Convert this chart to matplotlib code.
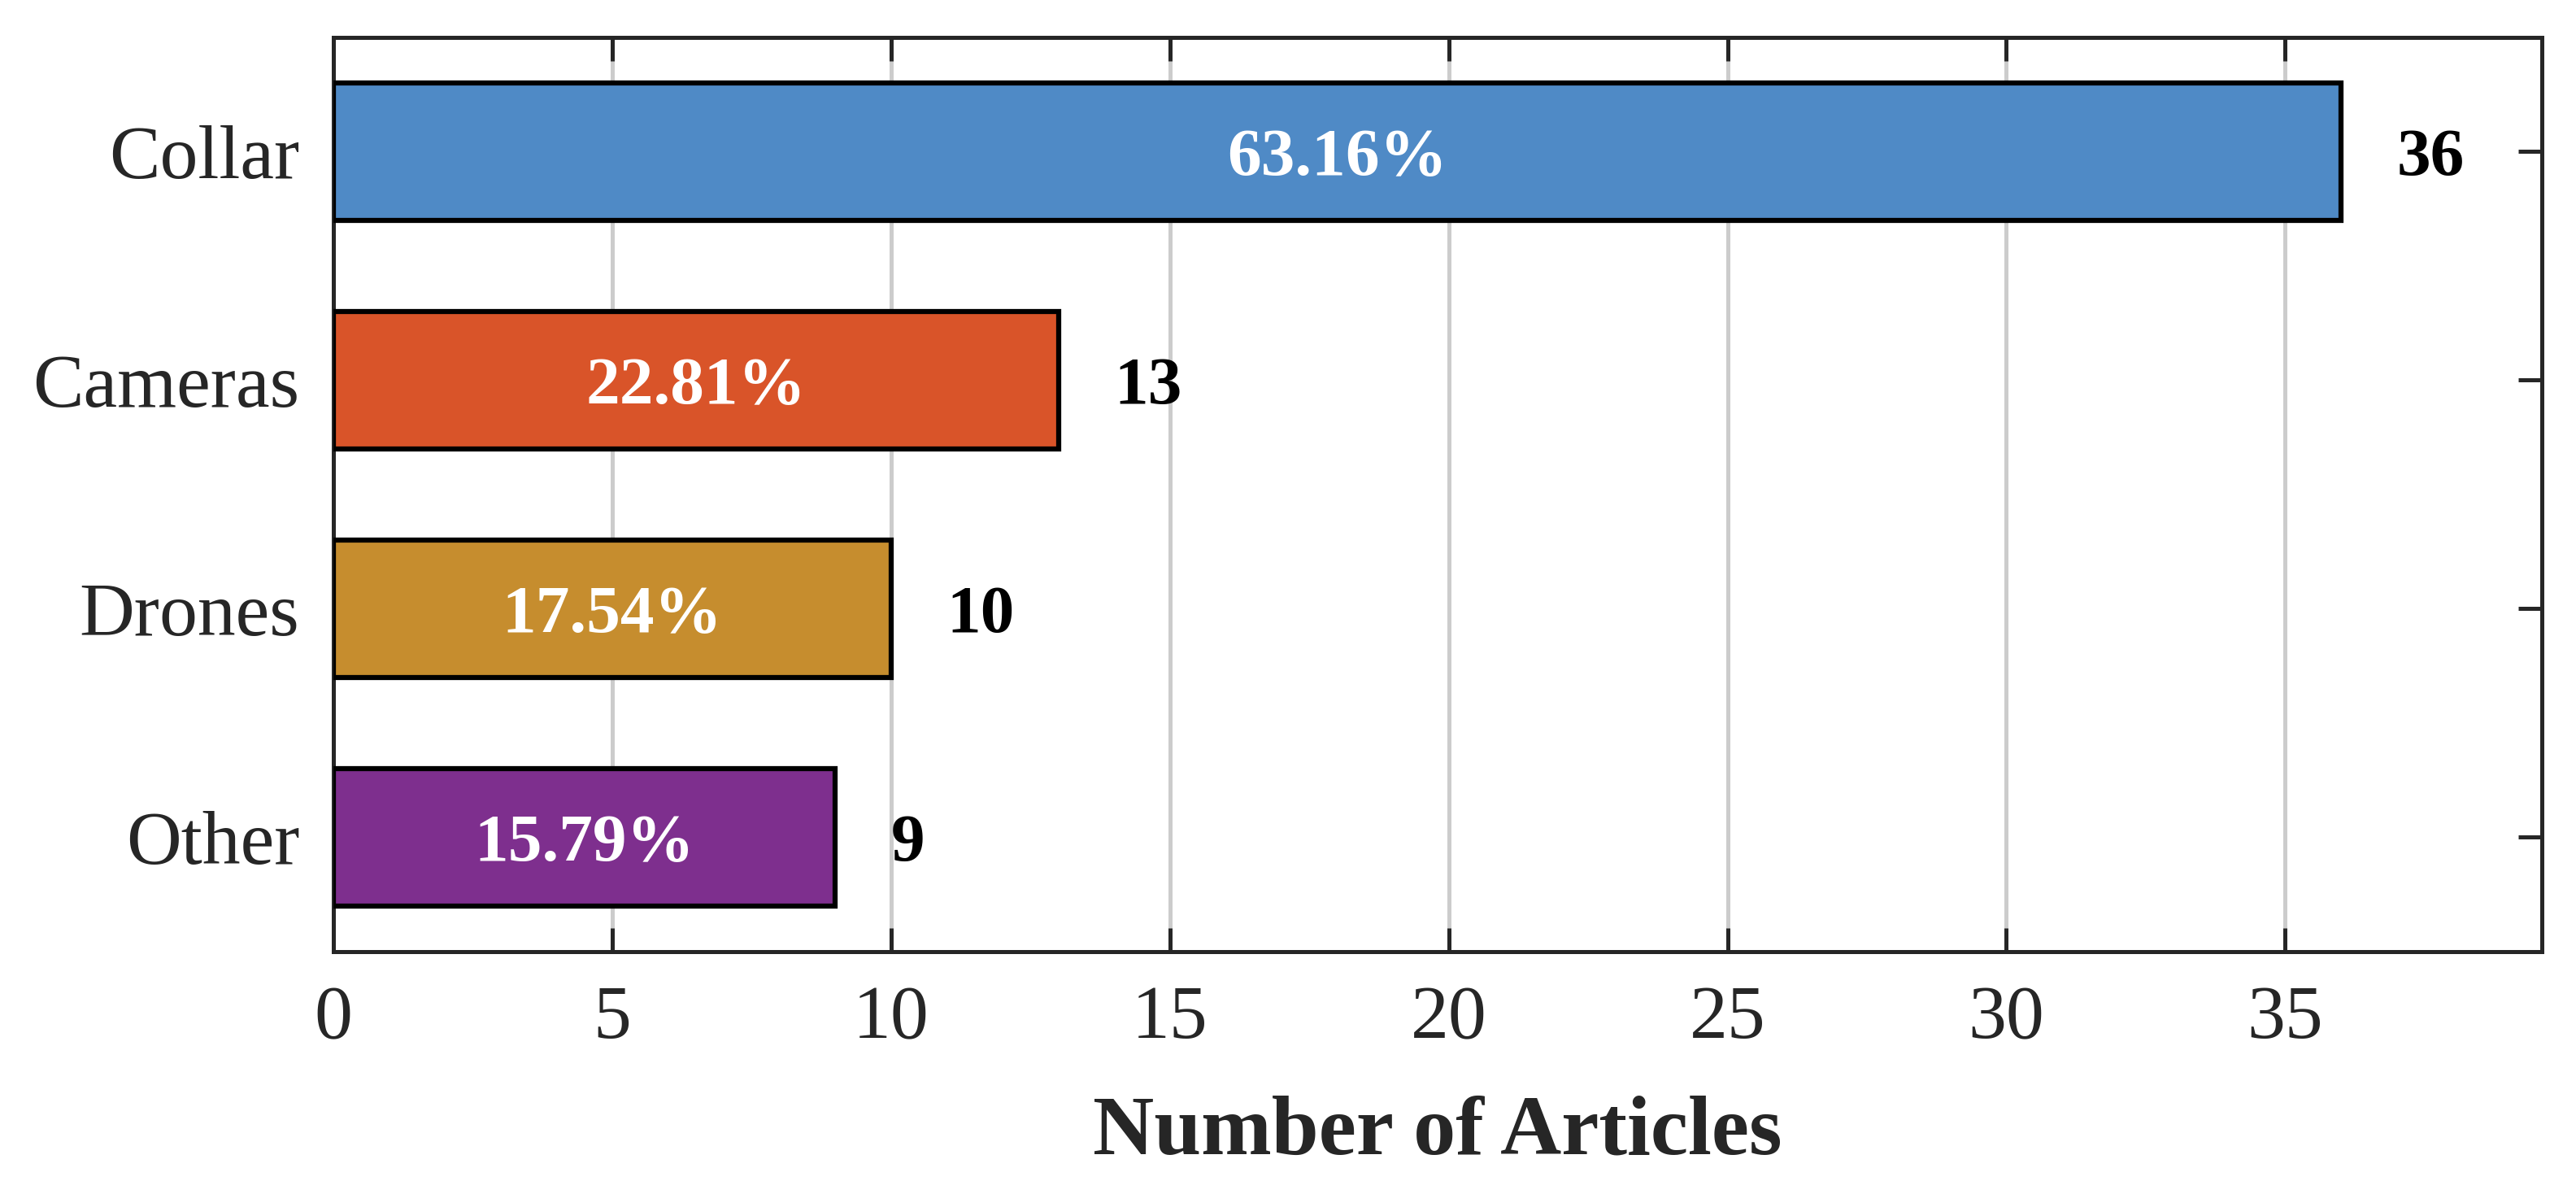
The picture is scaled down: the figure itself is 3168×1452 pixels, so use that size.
import matplotlib
matplotlib.use('Agg')
import matplotlib.pyplot as plt

# data
categories = ['Collar', 'Cameras', 'Drones', 'Other']
counts = [36, 13, 10, 9]
percent_labels = ['63.16%', '22.81%', '17.54%', '15.79%']
colors = ['#4f8ac6', '#d95429', '#c68d2e', '#7e2f8e']

plt.rcParams['font.family'] = ['Liberation Serif', 'DejaVu Serif']

fig = plt.figure(figsize=(10.56, 4.84), dpi=300)
ax = fig.add_axes([0.1294, 0.1944, 0.9867 - 0.1294, 0.9685 - 0.1944])

ypos = list(range(len(categories)))
ax.barh(ypos, counts, height=0.6, color=colors, edgecolor='black',
        linewidth=1.5, zorder=3)

for y, c, p in zip(ypos, counts, percent_labels):
    ax.text(c / 2, y, p, ha='center', va='center_baseline', color='white',
            fontsize=20, fontweight='bold', zorder=4)
    ax.text(c + 1, y, str(c), ha='left', va='center_baseline', color='black',
            fontsize=20, fontweight='bold', zorder=4)

ax.set_yticks(ypos)
ax.set_yticklabels(categories)
ax.set_ylim(3.5, -0.5)
ax.set_xlim(0, max(counts) * 1.1)
ax.set_xticks(range(0, 40, 5))

ax.grid(axis='x', color='#cccccc', linewidth=1.2, zorder=0)
ax.set_axisbelow(True)

for s in ax.spines.values():
    s.set_linewidth(1.2)
    s.set_color('#262626')

ax.tick_params(axis='both', direction='in', length=7, width=1.2,
               color='#262626', labelcolor='#262626', labelsize=22.5,
               top=True, right=True, pad=10)

ax.set_xlabel('Number of Articles', fontsize=25, fontweight='bold',
              color='#262626', labelpad=12)

fig.savefig('out.png', dpi=300)
